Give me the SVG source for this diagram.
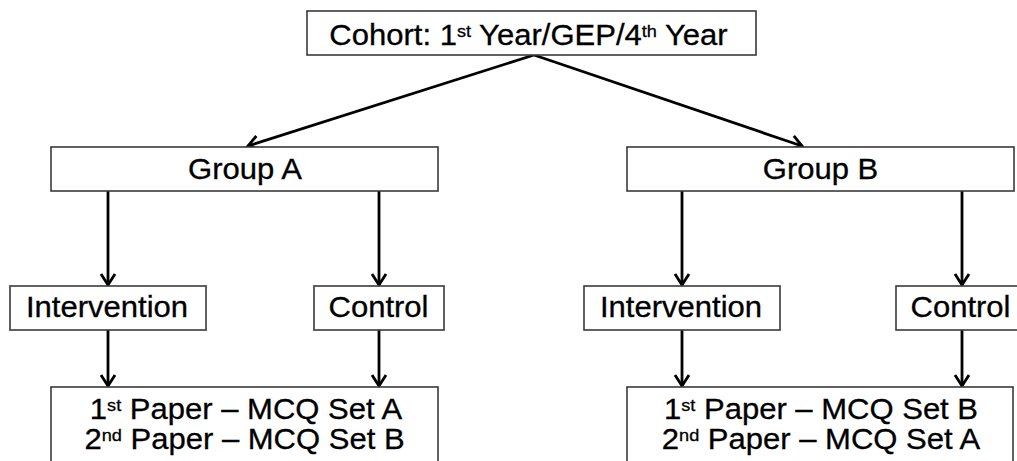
<svg xmlns="http://www.w3.org/2000/svg" width="1017" height="461" viewBox="0 0 1017 461">
<defs>
<style>
.box{fill:#fff;stroke:#3a3a3a;stroke-width:1.6}
.t{font-family:"Liberation Sans",Arial,sans-serif;font-size:29px;fill:#000;text-anchor:middle;stroke:#000;stroke-width:0.3}
.sup{font-size:17px}
.c{stroke:#000;stroke-width:2.8;fill:none;marker-end:url(#ah)}
</style>
<marker id="ah" markerUnits="userSpaceOnUse" markerWidth="20" markerHeight="20" refX="0" refY="0" viewBox="-14 -10 16 20" orient="auto" overflow="visible">
<path d="M-11,-7 L0,0 L-11,7" fill="none" stroke="#000" stroke-width="2.8" stroke-linejoin="miter"/>
</marker>
</defs>
<rect width="1017" height="461" fill="#fff"/>
<g id="connectors">
<line class="c" x1="534" y1="55" x2="248" y2="146"/>
<line class="c" x1="534" y1="55" x2="802" y2="146"/>
<line class="c" x1="108" y1="191" x2="108" y2="285"/>
<line class="c" x1="379" y1="191" x2="379" y2="285"/>
<line class="c" x1="682" y1="191" x2="682" y2="285"/>
<line class="c" x1="962" y1="191" x2="962" y2="285"/>
<line class="c" x1="108" y1="330" x2="108" y2="386"/>
<line class="c" x1="379" y1="330" x2="379" y2="386"/>
<line class="c" x1="682" y1="330" x2="682" y2="386"/>
<line class="c" x1="962" y1="330" x2="962" y2="386"/>
</g>
<g id="cohort">
<rect class="box" x="307" y="11" width="449" height="44"/>
<text class="t" transform="translate(528.5,44.5) scale(1.07,1)" x="0" y="0">Cohort: 1<tspan class="sup" dy="-8">st</tspan><tspan dy="8"> Year/GEP/4</tspan><tspan class="sup" dy="-8">th</tspan><tspan dy="8"> Year</tspan></text>
</g>
<g id="groupA">
<rect class="box" x="51" y="147" width="387" height="44"/>
<text class="t" transform="translate(245,179) scale(1.07,1)">Group A</text>
</g>
<g id="groupB">
<rect class="box" x="627" y="147" width="387" height="44"/>
<text class="t" transform="translate(820.5,179) scale(1.07,1)">Group B</text>
</g>
<g id="interventionA">
<rect class="box" x="10" y="286" width="196" height="44"/>
<text class="t" transform="translate(107,317) scale(1.07,1)">Intervention</text>
</g>
<g id="controlA">
<rect class="box" x="314" y="286" width="130" height="44"/>
<text class="t" transform="translate(378.5,317) scale(1.07,1)">Control</text>
</g>
<g id="interventionB">
<rect class="box" x="584" y="286" width="196" height="44"/>
<text class="t" transform="translate(681,317) scale(1.07,1)">Intervention</text>
</g>
<g id="controlB">
<rect class="box" x="896" y="286" width="140" height="44"/>
<text class="t" transform="translate(960.5,317) scale(1.07,1)">Control</text>
</g>
<g id="papersA">
<rect class="box" x="51" y="387" width="387" height="100"/>
<text class="t" transform="translate(246,419) scale(1.07,1)">1<tspan class="sup" dy="-8">st</tspan><tspan dy="8"> Paper – MCQ Set A</tspan></text>
<text class="t" transform="translate(244.5,449) scale(1.07,1)">2<tspan class="sup" dy="-8">nd</tspan><tspan dy="8"> Paper – MCQ Set B</tspan></text>
</g>
<g id="papersB">
<rect class="box" x="627" y="387" width="386" height="100"/>
<text class="t" transform="translate(821,419) scale(1.07,1)">1<tspan class="sup" dy="-8">st</tspan><tspan dy="8"> Paper – MCQ Set B</tspan></text>
<text class="t" transform="translate(821,449) scale(1.07,1)">2<tspan class="sup" dy="-8">nd</tspan><tspan dy="8"> Paper – MCQ Set A</tspan></text>
</g>
</svg>
